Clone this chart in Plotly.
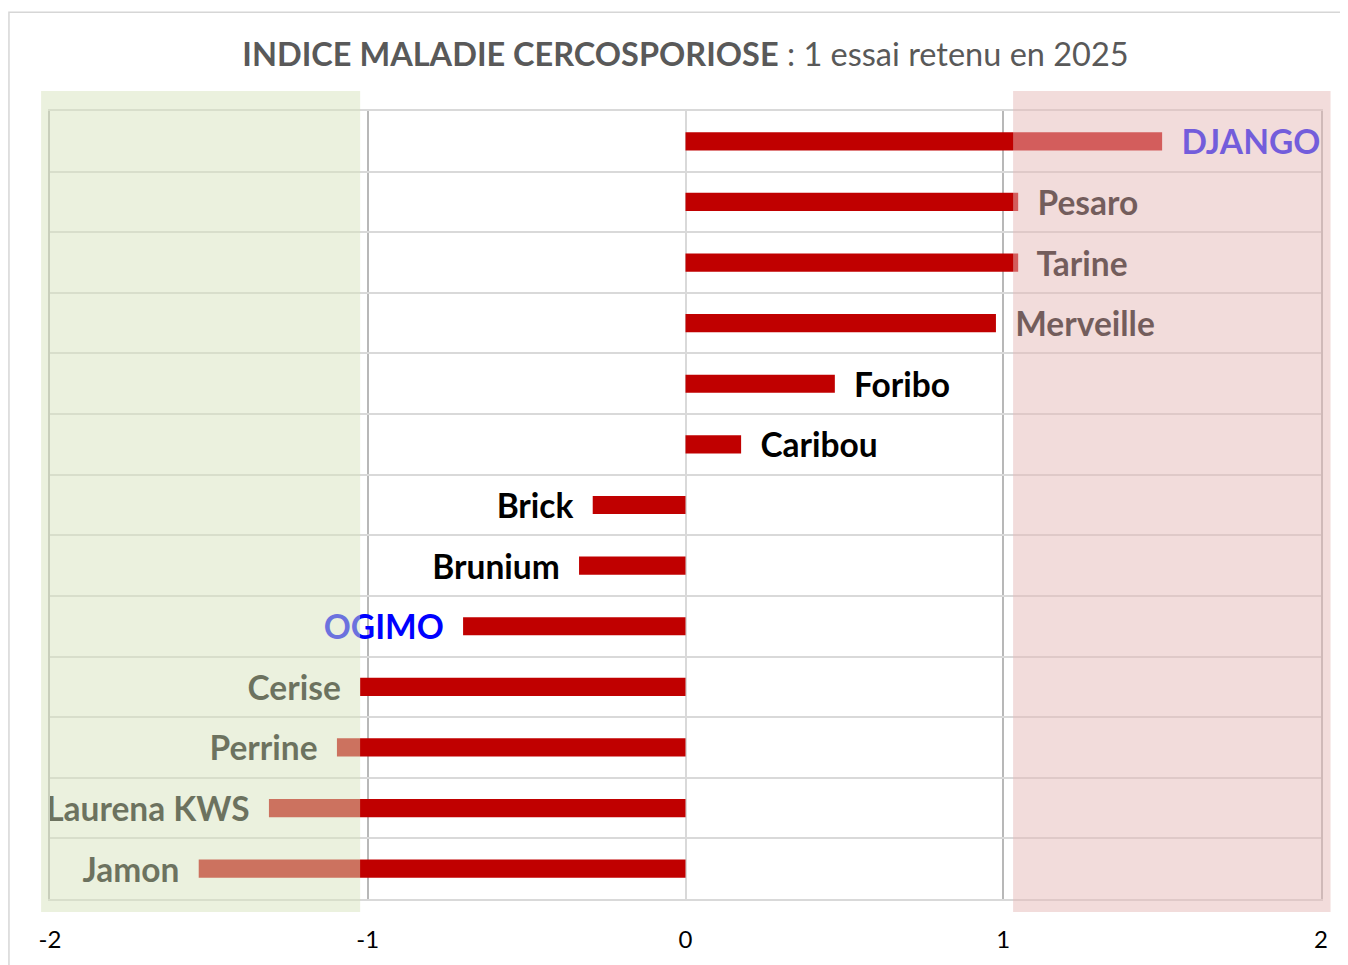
import plotly.graph_objects as go

varieties = ["DJANGO", "Pesaro", "Tarine", "Merveille", "Foribo", "Caribou", "Brick",
             "Brunium", "OGIMO", "Cerise", "Perrine", "Laurena KWS", "Jamon"]
indices = [1.50, 1.047, 1.047, 0.977, 0.47, 0.175, -0.292, -0.335, -0.70, -1.024, -1.097, -1.311, -1.532]
label_colors = ["#0000FF", "#000000", "#000000", "#000000", "#000000", "#000000", "#000000",
                "#000000", "#0000FF", "#000000", "#000000", "#000000", "#000000"]
x_ticks = [-2, -1, 0, 1, 2]

FONT = "Lato"
NB = "\u00a0\u00a0"
texts = [(NB + n) if v >= 0 else (n + NB) for n, v in zip(varieties, indices)]

fig = go.Figure(go.Bar(
    y=varieties, x=indices, orientation="h", width=0.3,
    marker=dict(color="#C00000", line=dict(width=0)),
    text=texts, textposition="outside", cliponaxis=False, constraintext="none",
    textfont=dict(family=FONT, size=33.5, color=label_colors, weight="bold"),
    hoverinfo="skip",
))

def px(v):
    return (v + 2) / 4.0

shapes = [
    # outer chart border
    dict(type="rect", xref="paper", yref="paper", x0=-0.0323, x1=1.2, y0=-0.3, y1=1.1253,
         line=dict(color="#D6D6D6", width=1.5), fillcolor="rgba(0,0,0,0)", layer="below"),
    # green zone
    dict(type="rect", xref="paper", yref="paper", x0=px(-2.028), x1=px(-1.024), y0=-0.0165, y1=1.0253,
         fillcolor="rgba(215,228,189,0.5)", line=dict(width=0), layer="above"),
    # red zone
    dict(type="rect", xref="paper", yref="paper", x0=px(1.031), x1=px(2.03), y0=-0.0165, y1=1.0253,
         fillcolor="rgba(230,185,184,0.5)", line=dict(width=0), layer="above"),
]

W, H = 1340, 957
fig.update_layout(
    width=W, height=H,
    margin=dict(l=42, r=27, t=103, b=60),
    paper_bgcolor="white", plot_bgcolor="white",
    showlegend=False,
    shapes=shapes,
    title=dict(
        text="<b>INDICE MALADIE CERCOSPORIOSE</b> : 1 essai retenu en 2025",
        font=dict(family=FONT, size=32.5, color="#595959"),
        x=0.5, xref="paper", xanchor="center", y=1 - 47 / H, yref="container", yanchor="middle",
    ),
    xaxis=dict(
        range=[-2, 2], tickvals=x_ticks, ticktext=[str(t) for t in x_ticks],
        showgrid=True, gridcolor="#B8B8B8", gridwidth=1.5,
        zeroline=True, zerolinecolor="#D9D9D9", zerolinewidth=2,
        showline=True, linecolor="#D9D9D9", linewidth=1.5, mirror=True,
        ticks="", ticklabelstandoff=18,
        tickfont=dict(family=FONT, size=24, color="#000000"),
        fixedrange=True,
    ),
    yaxis=dict(
        type="category", autorange="reversed", tickson="boundaries",
        showgrid=True, gridcolor="#D9D9D9", gridwidth=1.5,
        showticklabels=False, ticks="",
        showline=True, linecolor="#B8B8B8", linewidth=1.5, mirror=True,
        zeroline=False, fixedrange=True,
    ),
    bargap=0.7,
)

fig.write_html("out.html")
